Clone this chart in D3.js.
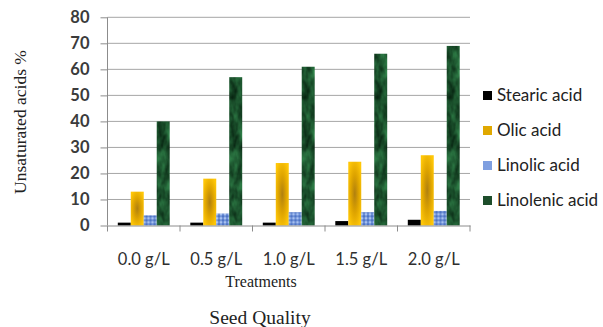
<!DOCTYPE html>
<html>
<head>
<meta charset="utf-8">
<script src="https://cdn.jsdelivr.net/npm/d3@7"></script>
<style>
  html, body { margin: 0; padding: 0; background: #fff; }
  svg { display: block; }
</style>
</head>
<body>
<div id="chart"></div>
<script>
// Fatty acid composition per treatment
const categories = ["0.0 g/L", "0.5 g/L", "1.0 g/L", "1.5 g/L", "2.0 g/L"];
const seriesNames = ["Stearic acid", "Olic acid", "Linolic acid", "Linolenic acid"];
const stearic   = [1.1, 1.1, 1.1, 1.7, 2.2];
const olic      = [13, 18, 24, 24.5, 27];
const linolic   = [3.9, 4.6, 5.1, 5.1, 5.6];
const linolenic = [40, 57, 61, 66, 69];
const yTicks = [0, 10, 20, 30, 40, 50, 60, 70, 80];

const seriesValues = [stearic, olic, linolic, linolenic];

const W = 603, H = 327;
const margin = { left: 107.5, right: 133, top: 17.3, bottom: 101.5 };
const plotW = W - margin.left - margin.right;
const plotH = H - margin.top - margin.bottom;

const svg = d3.select("#chart").append("svg")
  .attr("width", W).attr("height", H);

const defs = svg.append("defs");

// Gold radial fill
const gold = defs.append("radialGradient").attr("id", "gold")
  .attr("cx", "50%").attr("cy", "50%").attr("r", "60%");
gold.append("stop").attr("offset", "0%").attr("stop-color", "#b0800f");
gold.append("stop").attr("offset", "50%").attr("stop-color", "#dea400");
gold.append("stop").attr("offset", "100%").attr("stop-color", "#ffc708");

// Blue checked texture
const blue = defs.append("pattern").attr("id", "blueTex")
  .attr("patternUnits", "userSpaceOnUse").attr("width", 4).attr("height", 4);
blue.append("rect").attr("width", 4).attr("height", 4).attr("fill", "#6f92d8");
blue.append("rect").attr("x", 0).attr("y", 0).attr("width", 2).attr("height", 2).attr("fill", "#a9c1ef");
blue.append("rect").attr("x", 2).attr("y", 2).attr("width", 2).attr("height", 2).attr("fill", "#4f74c4");

// Green marble texture
const marble = defs.append("filter").attr("id", "marble")
  .attr("color-interpolation-filters", "sRGB")
  .attr("x", 0).attr("y", 0).attr("width", 1).attr("height", 1);
marble.append("feTurbulence").attr("type", "fractalNoise")
  .attr("baseFrequency", "0.12 0.06").attr("numOctaves", 3).attr("seed", 7).attr("result", "noise");
marble.append("feColorMatrix").attr("in", "noise").attr("type", "matrix")
  .attr("values", "0.26 0 0 0 -0.02  0.60 0 0 0 0.03  0.36 0 0 0 0.0  0 0 0 0 1")
  .attr("result", "tint");
marble.append("feComposite").attr("in", "tint").attr("in2", "SourceGraphic").attr("operator", "in");

const fills = ["#000000", "url(#gold)", "url(#blueTex)", "#1f5a30"];
const legendFills = ["#000000", "#e0a800", "#7f9fe0", "#1d4d2b"];

const g = svg.append("g").attr("transform", `translate(${margin.left},${margin.top})`);

const x0 = d3.scaleBand().domain(categories).range([0, plotW]).paddingInner(0).paddingOuter(0);
const x1 = d3.scaleBand().domain(seriesNames).range([x0.bandwidth() * 0.142, x0.bandwidth() * 0.858]).padding(0);
const y = d3.scaleLinear().domain([0, 80]).range([plotH, 0]);

// Gridlines
g.append("g").selectAll("line").data(yTicks.filter(d => d > 0)).join("line")
  .attr("x1", 0).attr("x2", plotW)
  .attr("y1", d => y(d)).attr("y2", d => y(d))
  .attr("stroke", "#a6a6a6").attr("stroke-width", 1);

// Bars
const groups = g.append("g").selectAll("g").data(categories).join("g")
  .attr("transform", d => `translate(${x0(d)},0)`);

groups.selectAll("rect")
  .data((c, i) => seriesNames.map((s, k) => ({ s, k, v: seriesValues[k][i] })))
  .join("rect")
  .attr("x", d => x1(d.s))
  .attr("y", d => y(d.v))
  .attr("width", x1.bandwidth())
  .attr("height", d => y(0) - y(d.v))
  .attr("fill", d => fills[d.k])
  .attr("filter", d => d.k === 3 ? "url(#marble)" : null);

// Y axis
const yAxis = g.append("g")
  .call(d3.axisLeft(y).tickValues(yTicks).tickSize(7).tickPadding(11).tickFormat(d3.format("d")));
yAxis.select(".domain").attr("stroke", "#8c8c8c").attr("d", `M0,${plotH}V0`);
yAxis.selectAll(".tick line").attr("stroke", "#8c8c8c");
yAxis.selectAll("text")
  .attr("font-family", "Lato, 'Open Sans', sans-serif")
  .attr("font-size", 16.5).attr("font-weight", 700).attr("fill", "#3b3b3b");

// X axis
const xAxis = g.append("g").attr("transform", `translate(0,${plotH})`)
  .call(d3.axisBottom(x0).tickSize(0).tickPadding(28));
xAxis.select(".domain").attr("stroke", "#8c8c8c");
xAxis.selectAll("text")
  .attr("font-family", "Lato, 'Open Sans', sans-serif")
  .attr("font-size", 16.5).attr("fill", "#2f2f2f");
// category separators
g.append("g").selectAll("line").data(d3.range(categories.length + 1)).join("line")
  .attr("x1", i => i * x0.bandwidth()).attr("x2", i => i * x0.bandwidth())
  .attr("y1", plotH).attr("y2", plotH + 6)
  .attr("stroke", "#8c8c8c");

// Axis titles
svg.append("text")
  .attr("transform", `translate(26,122) rotate(-90)`)
  .attr("text-anchor", "middle")
  .attr("font-family", "'Liberation Serif', 'Times New Roman', serif")
  .attr("font-size", 17.5).attr("fill", "#222")
  .text("Unsaturated acids %");

svg.append("text")
  .attr("x", 261).attr("y", 287)
  .attr("text-anchor", "middle")
  .attr("font-family", "'Liberation Serif', 'Times New Roman', serif")
  .attr("font-size", 16).attr("fill", "#222")
  .text("Treatments");

svg.append("text")
  .attr("x", 260).attr("y", 324)
  .attr("text-anchor", "middle")
  .attr("font-family", "'Liberation Serif', 'Times New Roman', serif")
  .attr("font-size", 19.5).attr("fill", "#222")
  .text("Seed Quality");

// Legend
const legend = svg.append("g").attr("transform", "translate(483,95.5)");
const li = legend.selectAll("g").data(seriesNames).join("g")
  .attr("transform", (d, i) => `translate(0,${i * 35})`);
li.append("rect").attr("x", 0).attr("y", -4.5).attr("width", 9).attr("height", 9)
  .attr("fill", (d, i) => legendFills[i]);
li.append("text").attr("x", 14).attr("y", 0).attr("dy", "0.35em")
  .attr("font-family", "Lato, 'Open Sans', sans-serif")
  .attr("font-size", 17).attr("fill", "#222")
  .text(d => d);
</script>
</body>
</html>
